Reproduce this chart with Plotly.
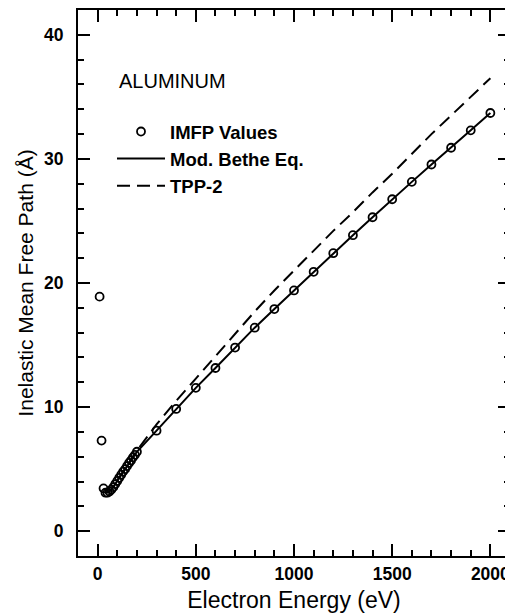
import plotly.graph_objects as go

# IMFP values (open circles)
imfp_energy = [10, 20, 30, 40, 50, 60, 70, 80, 90, 100, 110, 120, 130, 140, 150, 160, 170, 180, 190, 200,
               300, 400, 500, 600, 700, 800, 900, 1000, 1100, 1200, 1300, 1400, 1500, 1600, 1700, 1800, 1900, 2000]
imfp_value = [18.9, 7.3, 3.45, 3.1, 3.1, 3.2, 3.35, 3.55, 3.8, 4.05, 4.3, 4.55, 4.8, 5.0, 5.25, 5.5, 5.7, 5.95, 6.15, 6.4,
              8.1, 9.85, 11.55, 13.15, 14.8, 16.4, 17.9, 19.4, 20.9, 22.4, 23.85, 25.3, 26.75, 28.15, 29.55, 30.9, 32.3, 33.7]

# Modified Bethe equation fit (solid line)
bethe_energy = [40, 50, 60, 80, 100, 150, 200, 300, 400, 500, 600, 700, 800, 900, 1000,
                1100, 1200, 1300, 1400, 1500, 1600, 1700, 1800, 1900, 2000]
bethe_value = [3.15, 3.1, 3.2, 3.55, 4.05, 5.25, 6.4, 8.1, 9.85, 11.55, 13.15, 14.8, 16.4, 17.9, 19.4,
               20.9, 22.4, 23.85, 25.3, 26.75, 28.15, 29.55, 30.9, 32.3, 33.7]

# TPP-2 predictive formula (dashed line)
tpp2_energy = [100, 150, 200, 300, 400, 500, 600, 700, 800, 900, 1000, 1100, 1200, 1300, 1400,
               1500, 1600, 1700, 1800, 1900, 2000]
tpp2_value = [4.1, 5.35, 6.5, 8.6, 10.5, 12.3, 14.1, 15.9, 17.7, 19.4, 21.0, 22.6, 24.2, 25.7, 27.3,
              28.8, 30.4, 32.0, 33.5, 35.0, 36.5]

x_ticks = [0, 500, 1000, 1500, 2000]
y_ticks = [0, 10, 20, 30, 40]

FONT = "Liberation Sans, Arial, sans-serif"

fig = go.Figure()
fig.add_trace(go.Scatter(
    x=imfp_energy, y=imfp_value, mode="markers", name="IMFP Values",
    marker=dict(symbol="circle-open", size=8, color="black", line=dict(width=1.8, color="black")),
))
fig.add_trace(go.Scatter(
    x=bethe_energy, y=bethe_value, mode="lines", name="Mod. Bethe Eq.",
    line=dict(color="black", width=2),
))
fig.add_trace(go.Scatter(
    x=tpp2_energy, y=tpp2_value, mode="lines", name="TPP-2",
    line=dict(color="black", width=2, dash="13px,7px"),
))

axis_common = dict(
    showgrid=False, zeroline=False, showline=True, linecolor="black", linewidth=2,
    mirror="ticks", ticks="inside", ticklen=12, tickwidth=1.5, tickcolor="black",
    tickfont=dict(family=FONT, size=17.5, color="black", weight="bold"),
    automargin=False,
)

fig.update_xaxes(
    range=[-100, 2100], tickvals=x_ticks, ticktext=[str(v) for v in x_ticks],
    minor=dict(dtick=100, tick0=0, ticks="inside", ticklen=6, tickwidth=1.5, tickcolor="black"),
    title=dict(text="Electron Energy (eV)", font=dict(family=FONT, size=23, color="black"), standoff=11),
    ticklabelstandoff=1,
    **axis_common,
)
fig.update_yaxes(
    range=[-2, 42], tickvals=y_ticks, ticktext=[str(v) for v in y_ticks],
    minor=dict(dtick=2, tick0=0, ticks="inside", ticklen=6, tickwidth=1.5, tickcolor="black"),
    title=dict(text="Inelastic Mean Free Path (Å)", font=dict(family=FONT, size=21, color="black"), standoff=5),
    ticklabelstandoff=9,
    **axis_common,
)

# page body has an 8px margin, so the figure is 8px smaller and every position is shifted by 8px
fig.add_annotation(
    text="ALUMINUM", xref="paper", yref="paper", x=(117 - 78) / 432, y=(556 - 81) / 546,
    xanchor="left", yanchor="middle", showarrow=False,
    font=dict(family=FONT, size=20, color="black"),
)

fig.update_layout(
    width=505, height=605,
    margin=dict(l=70, r=3, t=2, b=57),
    paper_bgcolor="white", plot_bgcolor="white",
    showlegend=True,
    legend=dict(
        x=(112 - 78) / 432, y=(556 - 113) / 546, xanchor="left", yanchor="top",
        bgcolor="rgba(0,0,0,0)", borderwidth=0,
        font=dict(family=FONT, size=18.5, color="black", weight="bold"),
        itemwidth=48, tracegroupgap=0,
    ),
)

fig.write_html("out.html")
